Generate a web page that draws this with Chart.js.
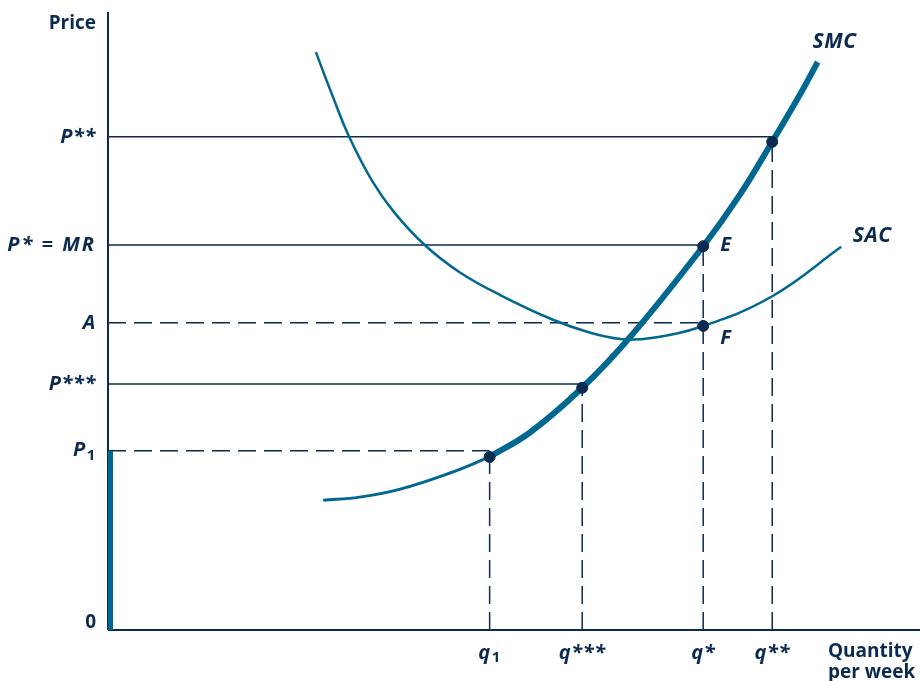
<!DOCTYPE html>
<html>
<head>
<meta charset="utf-8">
<script src="https://cdn.jsdelivr.net/npm/chart.js@4"></script>
<style>
  body { margin: 0; background: #fff; }
  canvas { display: block; }
</style>
</head>
<body>
<canvas id="costChart" width="921" height="681"></canvas>
<script>
// price levels on the vertical axis
const priceValues = [79.8, 62.3, 49.7, 39.8, 29.0];
const priceLabels = ['P**', 'P* = MR', 'A', 'P***', 'P'];
const priceSubs = ['', '', '', '', '1'];

// quantities on the horizontal axis
const qtyValues = [47.0, 58.4, 73.3, 81.8];
const qtyLabels = ['q', 'q***', 'q*', 'q**'];
const qtySubs = ['1', '', '', ''];

// short-run average cost
const sacX = [25.6, 27.6, 29.7, 32.6, 35.3, 39.0, 43.3, 48.3, 54.8, 59.4, 63.1, 66.7, 73.3, 81.8, 90.3];
const sacY = [93.5, 86.6, 79.8, 72.5, 67.5, 62.3, 57.9, 54.2, 50.2, 48.1, 47.1, 47.2, 49.2, 54.0, 62.0];

// short-run marginal cost, part below shutdown point
const smcLowX = [26.5, 31.0, 36.0, 42.1, 47.0];
const smcLowY = [21.0, 21.5, 22.8, 25.4, 28.0];

// short-run marginal cost, supply part
const smcX = [47.0, 52.0, 58.4, 64.3, 73.3, 77.8, 81.8, 85.2, 87.4];
const smcY = [28.0, 32.0, 39.2, 47.4, 62.1, 70.4, 79.0, 86.6, 91.9];

// marked points: q1, q***, E, F, q**
const dotX = [47.0, 58.4, 73.3, 73.3, 81.8];
const dotY = [28.0, 39.2, 62.1, 49.2, 79.0];

const navy = '#0b2a4f';
const curveBlue = '#006791';
const font = '"Open Sans", "Noto Sans", sans-serif';

function pts(xs, ys) {
    return xs.map((x, i) => ({ x: x, y: ys[i] }));
}

function segment(x1, y1, x2, y2, dashed) {
    return {
        data: [{ x: x1, y: y1 }, { x: x2, y: y2 }],
        borderColor: navy,
        borderWidth: 1.5,
        borderDash: dashed ? [18, 8] : [],
        pointRadius: 0,
        showLine: true,
        clip: false,
        order: 3
    };
}

function curve(xs, ys, width, order) {
    return {
        data: pts(xs, ys),
        borderColor: curveBlue,
        borderWidth: width,
        tension: 0.4,
        pointRadius: 0,
        showLine: true,
        clip: false,
        order: order
    };
}

const datasets = [];

// axes
datasets.push(Object.assign(segment(0, 0, 0, 100, false), { borderWidth: 2 }));
datasets.push(Object.assign(segment(0, 0, 100, 0, false), { borderWidth: 2 }));

// horizontal guides from the price axis to each point
datasets.push(segment(0, priceValues[0], dotX[4], priceValues[0], false));
datasets.push(segment(0, priceValues[1], dotX[2], priceValues[1], false));
datasets.push(segment(0, priceValues[2], dotX[3], priceValues[2], true));
datasets.push(segment(0, priceValues[3], dotX[1], priceValues[3], false));
datasets.push(segment(0, priceValues[4], dotX[0], priceValues[4], true));

// vertical dashed drops to the quantity axis
datasets.push(segment(qtyValues[0], 0, qtyValues[0], dotY[0], true));
datasets.push(segment(qtyValues[1], 0, qtyValues[1], dotY[1], true));
datasets.push(segment(qtyValues[2], 0, qtyValues[2], dotY[2], true));
datasets.push(segment(qtyValues[3], 0, qtyValues[3], dotY[4], true));

datasets.push(curve(sacX, sacY, 2.5, 2));
datasets.push(curve(smcLowX, smcLowY, 3, 2));
datasets.push(curve(smcX, smcY, 6, 1));
datasets.push({
    data: pts(dotX, dotY),
    backgroundColor: navy,
    borderColor: navy,
    pointRadius: 5.5,
    showLine: false,
    clip: false,
    order: 0
});

function drawSubText(ctx, x, y, main, sub, align, style, size, spacing) {
    size = size || 19;
    ctx.letterSpacing = spacing || (style.indexOf('italic') >= 0 ? '0.6px' : '0px');
    ctx.font = style + ' ' + size + 'px ' + font;
    const wMain = ctx.measureText(main).width;
    ctx.font = 'bold 15px ' + font;
    const wSub = sub ? ctx.measureText(sub).width + 1 : 0;
    let left = x;
    if (align === 'right') left = x - wMain - wSub;
    if (align === 'center') left = x - (wMain + wSub) / 2;
    ctx.textAlign = 'left';
    ctx.textBaseline = 'middle';
    ctx.font = style + ' ' + size + 'px ' + font;
    ctx.fillText(main, left, y);
    if (sub) {
        ctx.font = 'bold 15px ' + font;
        ctx.fillText(sub, left + wMain + 1, y + 5);
    }
}

const labelPlugin = {
    id: 'labels',
    afterDatasetsDraw(chart) {
        const ctx = chart.ctx;
        const xs = chart.scales.x;
        const ys = chart.scales.y;
        const area = chart.chartArea;
        ctx.save();

        // supply segment along the price axis, from 0 up to P1
        ctx.fillStyle = curveBlue;
        const x0 = xs.getPixelForValue(0);
        ctx.fillRect(x0, ys.getPixelForValue(priceValues[4]), 5, ys.getPixelForValue(0) - ys.getPixelForValue(priceValues[4]));

        ctx.fillStyle = navy;
        const lx = area.left - 12;
        priceValues.forEach((v, i) => {
            const spacing = priceLabels[i] === 'P* = MR' ? '2px' : null;
            drawSubText(ctx, lx, ys.getPixelForValue(v), priceLabels[i], priceSubs[i], 'right', 'italic bold', 20, spacing);
        });
        drawSubText(ctx, lx, ys.getPixelForValue(0) - 7, '0', '', 'right', 'bold');
        drawSubText(ctx, lx, 24, 'Price', '', 'right', 'bold');

        const ty = ys.getPixelForValue(0) + 23;
        qtyValues.forEach((v, i) => {
            drawSubText(ctx, xs.getPixelForValue(v), ty, qtyLabels[i], qtySubs[i], 'center', 'italic bold', 20);
        });
        drawSubText(ctx, 828, ty - 1, 'Quantity', '', 'left', 'bold');
        drawSubText(ctx, 828, ty + 20, 'per week', '', 'left', 'bold');

        // curve and point names
        drawSubText(ctx, xs.getPixelForValue(smcX[smcX.length - 1]) + 17, ys.getPixelForValue(smcY[smcY.length - 1]) - 20, 'SMC', '', 'center', 'italic bold', 21);
        drawSubText(ctx, xs.getPixelForValue(sacX[sacX.length - 1]) + 31, ys.getPixelForValue(sacY[sacY.length - 1]) - 11, 'SAC', '', 'center', 'italic bold', 21);
        drawSubText(ctx, xs.getPixelForValue(dotX[2]) + 17, ys.getPixelForValue(dotY[2]) - 1, 'E', '', 'left', 'italic bold', 20);
        drawSubText(ctx, xs.getPixelForValue(dotX[3]) + 17, ys.getPixelForValue(dotY[3]) + 12, 'F', '', 'left', 'italic bold', 20);
        ctx.restore();
    }
};

new Chart(document.getElementById('costChart'), {
    type: 'scatter',
    data: { datasets: datasets },
    options: {
        responsive: false,
        animation: false,
        devicePixelRatio: 1,
        layout: { autoPadding: false, padding: { left: 108, top: 12, right: 1, bottom: 51 } },
        plugins: {
            legend: { display: false },
            tooltip: { enabled: false }
        },
        scales: {
            x: { type: 'linear', min: 0, max: 100, display: false },
            y: { type: 'linear', min: 0, max: 100, display: false }
        }
    },
    plugins: [labelPlugin]
});
</script>
</body>
</html>
